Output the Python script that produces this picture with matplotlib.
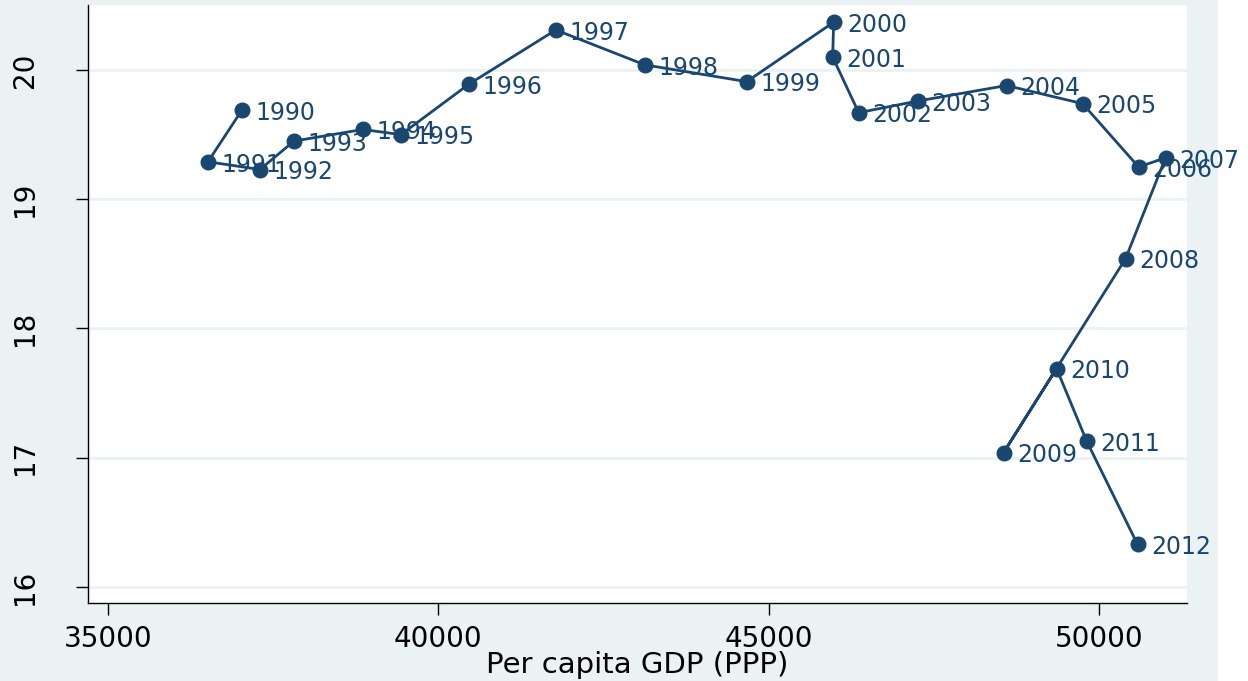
import matplotlib
matplotlib.use('Agg')
import matplotlib.pyplot as plt
from matplotlib.patches import Rectangle

years = [1990, 1991, 1992, 1993, 1994, 1995, 1996, 1997, 1998, 1999, 2000, 2001,
         2002, 2003, 2004, 2005, 2006, 2007, 2008, 2009, 2010, 2011, 2012]
gdp = [37027, 36513, 37300, 37814, 38858, 39433, 40461, 41778, 43124, 44667, 45983, 45968,
       46362, 47254, 48600, 49750, 50598, 51006, 50401, 48555, 49357, 49811, 50582]
values = [19.69, 19.29, 19.23, 19.45, 19.54, 19.50, 19.89, 20.31, 20.04, 19.91, 20.37, 20.10,
          19.67, 19.76, 19.88, 19.74, 19.25, 19.32, 18.54, 17.04, 17.69, 17.13, 16.33]
xticks = [35000, 40000, 45000, 50000]
yticks = [16, 17, 18, 19, 20]
xlabel = 'Per capita GDP (PPP)'

navy = '#1A476F'
bg = '#EAF2F3'

plt.rcParams['font.family'] = ['DejaVu Sans']

W, H = 1248, 681
fig = plt.figure(figsize=(W / 100, H / 100), dpi=100, facecolor='white')
fig.patches.append(Rectangle((0, 0), 1218 / W, 1, transform=fig.transFigure,
                             facecolor=bg, edgecolor='none', zorder=-10))
ax = fig.add_axes([88 / W, (H - 603) / H, (1187 - 88) / W, (603 - 5) / H])
ax.set_facecolor('white')

ax.plot(gdp, values, color=navy, lw=2.0, marker='o', markersize=10.5,
        markerfacecolor=navy, markeredgecolor=navy, zorder=3)
for x, y, yr in zip(gdp, values, years):
    ax.annotate(str(yr), (x, y), xytext=(10, -2), textcoords='offset points',
                ha='left', va='center', color=navy, fontsize=17, zorder=4)

ax.set_xlim(34697, 51331)
ax.set_ylim(15.876, 20.503)
ax.set_xticks(xticks)
ax.set_yticks(yticks)
ax.grid(axis='y', color=bg, lw=2)
ax.set_axisbelow(True)
for s in ['top', 'right']:
    ax.spines[s].set_visible(False)
for s in ['left', 'bottom']:
    ax.spines[s].set_color('black')
    ax.spines[s].set_linewidth(1)
ax.tick_params(axis='x', length=8.6, width=1, labelsize=20, pad=7)
ax.tick_params(axis='y', length=8.6, width=1, labelsize=20, pad=27)
plt.setp(ax.get_yticklabels(), rotation=90, va='center', ha='right')
ax.set_xlabel(xlabel, fontsize=21, labelpad=-1)

fig.savefig('out.png', dpi=100, facecolor=fig.get_facecolor())
